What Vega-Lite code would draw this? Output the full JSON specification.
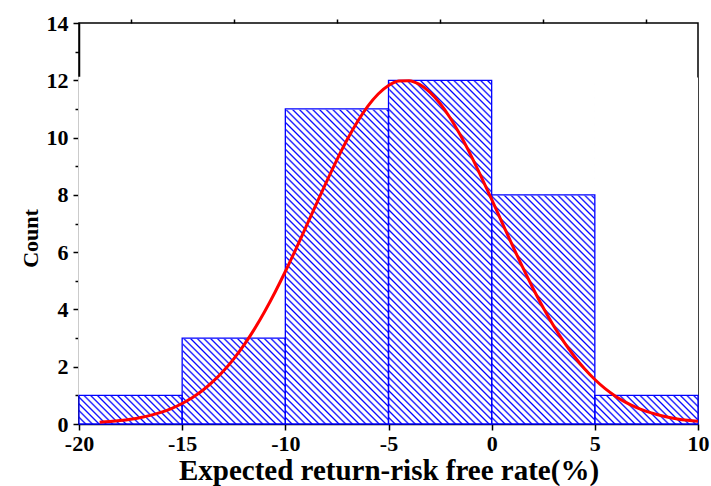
{
  "$schema": "https://vega.github.io/schema/vega-lite/v6.json",
  "width": 619,
  "height": 401,
  "autosize": {"type": "none"},
  "padding": {"left": 79, "top": 23, "right": 13, "bottom": 62},
  "background": "white",
  "config": {
    "view": {"stroke": "black", "strokeWidth": 1.5},
    "axis": {
      "labelFont": "Liberation Serif",
      "labelFontWeight": "bold",
      "labelFontSize": 22,
      "labelColor": "black",
      "titleFont": "Liberation Serif",
      "titleFontWeight": "bold",
      "titleColor": "black",
      "tickColor": "black",
      "tickWidth": 1.5,
      "domainColor": "black",
      "domainWidth": 1.5,
      "grid": false,
      "labelFlush": false,
      "labelOverlap": false,
      "zindex": 1
    }
  },
  "datasets": {
    "bins": [
      {"bin_start": -20, "bin_end": -15, "count": 1},
      {"bin_start": -15, "bin_end": -10, "count": 3},
      {"bin_start": -10, "bin_end": -5, "count": 11},
      {"bin_start": -5, "bin_end": 0, "count": 12},
      {"bin_start": 0, "bin_end": 5, "count": 8},
      {"bin_start": 5, "bin_end": 10, "count": 1}
    ],
    "curve": [
      {"x": -19, "y": 0.06}, {"x": -18.5, "y": 0.086}, {"x": -18, "y": 0.121}, {"x": -17.5, "y": 0.167},
      {"x": -17, "y": 0.229}, {"x": -16.5, "y": 0.311}, {"x": -16, "y": 0.416}, {"x": -15.5, "y": 0.549},
      {"x": -15, "y": 0.717}, {"x": -14.5, "y": 0.925}, {"x": -14, "y": 1.179}, {"x": -13.5, "y": 1.486},
      {"x": -13, "y": 1.848}, {"x": -12.5, "y": 2.273}, {"x": -12, "y": 2.76}, {"x": -11.5, "y": 3.313},
      {"x": -11, "y": 3.928}, {"x": -10.5, "y": 4.601}, {"x": -10, "y": 5.324}, {"x": -9.5, "y": 6.089},
      {"x": -9, "y": 6.878}, {"x": -8.5, "y": 7.678}, {"x": -8, "y": 8.466}, {"x": -7.5, "y": 9.224},
      {"x": -7, "y": 9.93}, {"x": -6.5, "y": 10.56}, {"x": -6, "y": 11.097}, {"x": -5.5, "y": 11.52},
      {"x": -5, "y": 11.816}, {"x": -4.5, "y": 11.974}, {"x": -4, "y": 11.988}, {"x": -3.5, "y": 11.859},
      {"x": -3, "y": 11.59}, {"x": -2.5, "y": 11.191}, {"x": -2, "y": 10.676}, {"x": -1.5, "y": 10.062},
      {"x": -1, "y": 9.371}, {"x": -0.5, "y": 8.621}, {"x": 0, "y": 7.84}, {"x": 0.5, "y": 7.038},
      {"x": 1, "y": 6.245}, {"x": 1.5, "y": 5.475}, {"x": 2, "y": 4.741}, {"x": 2.5, "y": 4.057},
      {"x": 3, "y": 3.431}, {"x": 3.5, "y": 2.866}, {"x": 4, "y": 2.365}, {"x": 4.5, "y": 1.929},
      {"x": 5, "y": 1.554}, {"x": 5.5, "y": 1.236}, {"x": 6, "y": 0.972}, {"x": 6.5, "y": 0.755},
      {"x": 7, "y": 0.58}, {"x": 7.5, "y": 0.44}, {"x": 8, "y": 0.33}, {"x": 8.5, "y": 0.244},
      {"x": 9, "y": 0.178}, {"x": 9.5, "y": 0.129}, {"x": 10, "y": 0.092}
    ]
  },
  "resolve": {"axis": {"x": "independent", "y": "independent"}},
  "layer": [
    {
      "data": {"name": "bins"},
      "mark": {
        "type": "bar",
        "strokeWidth": 0,
        "fill": {
          "gradient": "linear",
          "x1": 0, "y1": 1, "x2": 0.358, "y2": -0.1928,
          "stops": [
            {"offset": 0, "color": "blue"}, {"offset": 0.004, "color": "white"}, {"offset": 0.011, "color": "white"},
            {"offset": 0.015, "color": "blue"}, {"offset": 0.019, "color": "white"}, {"offset": 0.026, "color": "white"},
            {"offset": 0.03, "color": "blue"}, {"offset": 0.034, "color": "white"}, {"offset": 0.041, "color": "white"},
            {"offset": 0.045, "color": "blue"}, {"offset": 0.049, "color": "white"}, {"offset": 0.056, "color": "white"},
            {"offset": 0.06, "color": "blue"}, {"offset": 0.064, "color": "white"}, {"offset": 0.071, "color": "white"},
            {"offset": 0.075, "color": "blue"}, {"offset": 0.079, "color": "white"}, {"offset": 0.086, "color": "white"},
            {"offset": 0.09, "color": "blue"}, {"offset": 0.094, "color": "white"}, {"offset": 0.101, "color": "white"},
            {"offset": 0.105, "color": "blue"}, {"offset": 0.109, "color": "white"}, {"offset": 0.116, "color": "white"},
            {"offset": 0.12, "color": "blue"}, {"offset": 0.124, "color": "white"}, {"offset": 0.131, "color": "white"},
            {"offset": 0.135, "color": "blue"}, {"offset": 0.139, "color": "white"}, {"offset": 0.146, "color": "white"},
            {"offset": 0.15, "color": "blue"}, {"offset": 0.154, "color": "white"}, {"offset": 0.161, "color": "white"},
            {"offset": 0.165, "color": "blue"}, {"offset": 0.169, "color": "white"}, {"offset": 0.176, "color": "white"},
            {"offset": 0.18, "color": "blue"}, {"offset": 0.184, "color": "white"}, {"offset": 0.191, "color": "white"},
            {"offset": 0.195, "color": "blue"}, {"offset": 0.199, "color": "white"}, {"offset": 0.206, "color": "white"},
            {"offset": 0.21, "color": "blue"}, {"offset": 0.214, "color": "white"}, {"offset": 0.221, "color": "white"},
            {"offset": 0.225, "color": "blue"}, {"offset": 0.229, "color": "white"}, {"offset": 0.236, "color": "white"},
            {"offset": 0.24, "color": "blue"}, {"offset": 0.244, "color": "white"}, {"offset": 0.251, "color": "white"},
            {"offset": 0.255, "color": "blue"}, {"offset": 0.259, "color": "white"}, {"offset": 0.266, "color": "white"},
            {"offset": 0.27, "color": "blue"}, {"offset": 0.274, "color": "white"}, {"offset": 0.281, "color": "white"},
            {"offset": 0.285, "color": "blue"}, {"offset": 0.289, "color": "white"}, {"offset": 0.296, "color": "white"},
            {"offset": 0.3, "color": "blue"}, {"offset": 0.304, "color": "white"}, {"offset": 0.311, "color": "white"},
            {"offset": 0.315, "color": "blue"}, {"offset": 0.319, "color": "white"}, {"offset": 0.326, "color": "white"},
            {"offset": 0.33, "color": "blue"}, {"offset": 0.334, "color": "white"}, {"offset": 0.341, "color": "white"},
            {"offset": 0.345, "color": "blue"}, {"offset": 0.349, "color": "white"}, {"offset": 0.356, "color": "white"},
            {"offset": 0.36, "color": "blue"}, {"offset": 0.364, "color": "white"}, {"offset": 0.371, "color": "white"},
            {"offset": 0.375, "color": "blue"}, {"offset": 0.379, "color": "white"}, {"offset": 0.386, "color": "white"},
            {"offset": 0.39, "color": "blue"}, {"offset": 0.394, "color": "white"}, {"offset": 0.401, "color": "white"},
            {"offset": 0.405, "color": "blue"}, {"offset": 0.409, "color": "white"}, {"offset": 0.416, "color": "white"},
            {"offset": 0.42, "color": "blue"}, {"offset": 0.424, "color": "white"}, {"offset": 0.431, "color": "white"},
            {"offset": 0.435, "color": "blue"}, {"offset": 0.439, "color": "white"}, {"offset": 0.446, "color": "white"},
            {"offset": 0.45, "color": "blue"}, {"offset": 0.454, "color": "white"}, {"offset": 0.461, "color": "white"},
            {"offset": 0.465, "color": "blue"}, {"offset": 0.469, "color": "white"}, {"offset": 0.476, "color": "white"},
            {"offset": 0.48, "color": "blue"}, {"offset": 0.484, "color": "white"}, {"offset": 0.491, "color": "white"},
            {"offset": 0.495, "color": "blue"}, {"offset": 0.499, "color": "white"}, {"offset": 0.506, "color": "white"},
            {"offset": 0.51, "color": "blue"}, {"offset": 0.514, "color": "white"}, {"offset": 0.521, "color": "white"},
            {"offset": 0.525, "color": "blue"}, {"offset": 0.529, "color": "white"}, {"offset": 0.536, "color": "white"},
            {"offset": 0.54, "color": "blue"}, {"offset": 0.544, "color": "white"}, {"offset": 0.551, "color": "white"},
            {"offset": 0.555, "color": "blue"}, {"offset": 0.559, "color": "white"}, {"offset": 0.566, "color": "white"},
            {"offset": 0.57, "color": "blue"}, {"offset": 0.574, "color": "white"}, {"offset": 0.581, "color": "white"},
            {"offset": 0.585, "color": "blue"}, {"offset": 0.589, "color": "white"}, {"offset": 0.596, "color": "white"},
            {"offset": 0.6, "color": "blue"}, {"offset": 0.604, "color": "white"}, {"offset": 0.611, "color": "white"},
            {"offset": 0.615, "color": "blue"}, {"offset": 0.619, "color": "white"}, {"offset": 0.626, "color": "white"},
            {"offset": 0.63, "color": "blue"}, {"offset": 0.634, "color": "white"}, {"offset": 0.641, "color": "white"},
            {"offset": 0.645, "color": "blue"}, {"offset": 0.649, "color": "white"}, {"offset": 0.656, "color": "white"},
            {"offset": 0.66, "color": "blue"}, {"offset": 0.664, "color": "white"}, {"offset": 0.671, "color": "white"},
            {"offset": 0.675, "color": "blue"}, {"offset": 0.679, "color": "white"}, {"offset": 0.686, "color": "white"},
            {"offset": 0.69, "color": "blue"}, {"offset": 0.694, "color": "white"}, {"offset": 0.701, "color": "white"},
            {"offset": 0.705, "color": "blue"}, {"offset": 0.709, "color": "white"}, {"offset": 0.716, "color": "white"},
            {"offset": 0.72, "color": "blue"}, {"offset": 0.724, "color": "white"}, {"offset": 0.731, "color": "white"},
            {"offset": 0.735, "color": "blue"}, {"offset": 0.739, "color": "white"}, {"offset": 0.746, "color": "white"},
            {"offset": 0.75, "color": "blue"}, {"offset": 0.754, "color": "white"}, {"offset": 0.761, "color": "white"},
            {"offset": 0.765, "color": "blue"}, {"offset": 0.769, "color": "white"}, {"offset": 0.776, "color": "white"},
            {"offset": 0.78, "color": "blue"}, {"offset": 0.784, "color": "white"}, {"offset": 0.791, "color": "white"},
            {"offset": 0.795, "color": "blue"}, {"offset": 0.799, "color": "white"}, {"offset": 0.806, "color": "white"},
            {"offset": 0.81, "color": "blue"}, {"offset": 0.814, "color": "white"}, {"offset": 0.821, "color": "white"},
            {"offset": 0.825, "color": "blue"}, {"offset": 0.829, "color": "white"}, {"offset": 0.836, "color": "white"},
            {"offset": 0.84, "color": "blue"}, {"offset": 0.844, "color": "white"}, {"offset": 0.851, "color": "white"},
            {"offset": 0.855, "color": "blue"}, {"offset": 0.859, "color": "white"}, {"offset": 0.866, "color": "white"},
            {"offset": 0.87, "color": "blue"}, {"offset": 0.874, "color": "white"}, {"offset": 0.881, "color": "white"},
            {"offset": 0.885, "color": "blue"}, {"offset": 0.889, "color": "white"}, {"offset": 0.896, "color": "white"},
            {"offset": 0.9, "color": "blue"}, {"offset": 0.904, "color": "white"}, {"offset": 0.911, "color": "white"},
            {"offset": 0.915, "color": "blue"}, {"offset": 0.919, "color": "white"}, {"offset": 0.926, "color": "white"},
            {"offset": 0.93, "color": "blue"}, {"offset": 0.934, "color": "white"}, {"offset": 0.941, "color": "white"},
            {"offset": 0.945, "color": "blue"}, {"offset": 0.949, "color": "white"}, {"offset": 0.956, "color": "white"},
            {"offset": 0.96, "color": "blue"}, {"offset": 0.964, "color": "white"}, {"offset": 0.971, "color": "white"},
            {"offset": 0.975, "color": "blue"}, {"offset": 0.979, "color": "white"}, {"offset": 0.986, "color": "white"},
            {"offset": 0.99, "color": "blue"}, {"offset": 0.994, "color": "white"}, {"offset": 1, "color": "white"}
          ]
        }
      },
      "encoding": {
        "x": {
          "field": "bin_start", "type": "quantitative",
          "scale": {"domain": [-20, 10], "nice": false, "zero": false},
          "axis": {
            "values": [-20, -15, -10, -5, 0, 5, 10],
            "labelExpr": "'' + datum.value",
            "tickSize": 6,
            "labelPadding": 3,
            "title": "Expected return-risk free rate(%)",
            "titleFontSize": 29,
            "titleBaseline": "alphabetic",
            "titleY": 55
          }
        },
        "x2": {"field": "bin_end"},
        "y": {
          "datum": 0, "type": "quantitative",
          "scale": {"domain": [0, 14], "nice": false, "zero": true},
          "axis": {
            "values": [0, 2, 4, 6, 8, 10, 12, 14],
            "tickSize": 6,
            "labelPadding": 5,
            "title": "Count",
            "titleFontSize": 22,
            "titleBaseline": "alphabetic",
            "titleAngle": -90,
            "titleAlign": "center",
            "titleX": -42,
            "titleY": 215
          }
        },
        "y2": {"datum": 12}
      }
    },
    {
      "data": {"name": "bins"},
      "mark": {"type": "bar", "fill": "white", "stroke": "white"},
      "encoding": {
        "x": {
          "field": "bin_start", "type": "quantitative",
          "axis": {"values": [-17.5, -12.5, -7.5, -2.5, 2.5, 7.5], "labels": false, "domain": false, "tickSize": 4, "title": null}
        },
        "x2": {"field": "bin_end"},
        "y": {
          "field": "count", "type": "quantitative",
          "axis": {"values": [1, 3, 5, 7, 9, 11, 13], "labels": false, "domain": false, "tickSize": 4, "title": null, "orient": "left"}
        },
        "y2": {"datum": 12.1},
        "strokeWidth": {"condition": {"test": "datum.bin_end == 10", "value": 0}, "value": 1.5}
      }
    },
    {
      "data": {"name": "bins"},
      "mark": {"type": "bar", "fillOpacity": 0, "stroke": "#0000ff", "strokeWidth": 1.3},
      "encoding": {
        "x": {"field": "bin_start", "type": "quantitative", "axis": null},
        "x2": {"field": "bin_end"},
        "y": {"field": "count", "type": "quantitative", "axis": null},
        "y2": {"datum": 0}
      }
    },
    {
      "data": {"name": "curve"},
      "mark": {"type": "line", "color": "#ff0000", "strokeWidth": 3, "interpolate": "monotone"},
      "encoding": {
        "x": {"field": "x", "type": "quantitative", "axis": null},
        "y": {"field": "y", "type": "quantitative", "axis": null}
      }
    }
  ]
}
